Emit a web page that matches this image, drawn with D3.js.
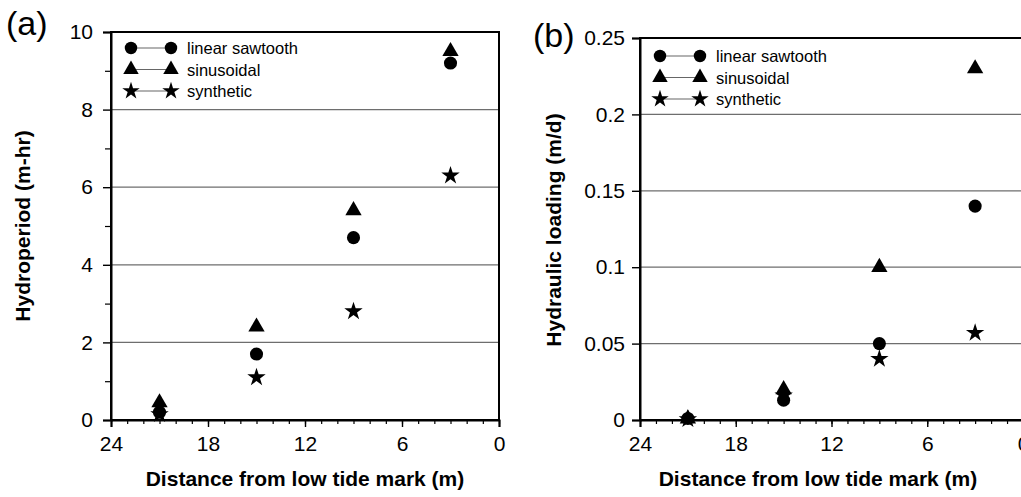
<!DOCTYPE html>
<html>
<head>
<meta charset="utf-8">
<script src="https://cdn.jsdelivr.net/npm/d3@7"></script>
<style>
  body { margin: 0; background: #fff; }
  svg { display: block; font-family: "Liberation Sans", Arial, sans-serif; }
</style>
</head>
<body>
<div id="chart"></div>
<script>
// distance from low tide mark (m)
const distance = [21, 15, 9, 3];

// panel (a) hydroperiod (m-hr)
const hydroSawtooth = [0.2, 1.7, 4.7, 9.2];
const hydroSinusoidal = [0.45, 2.4, 5.4, 9.5];
const hydroSynthetic = [0.15, 1.1, 2.8, 6.3];

// panel (b) hydraulic loading (m/d)
const loadSawtooth = [0.001, 0.013, 0.05, 0.14];
const loadSinusoidal = [0.0008, 0.02, 0.1, 0.23];
const loadSynthetic = [0.0005, 0.016, 0.04, 0.057];

const seriesNames = ['linear sawtooth', 'sinusoidal', 'synthetic'];
const xTicks = [24, 18, 12, 6, 0];
const hydroTicks = [0, 2, 4, 6, 8, 10];
const loadTicks = [0, 0.05, 0.1, 0.15, 0.2, 0.25];

const W = 1021;
const H = 497;
const FONT = '"Liberation Sans", Arial, sans-serif';

const svg = d3.select('#chart').append('svg')
  .attr('width', W)
  .attr('height', H);

const symbols = [d3.symbolCircle, d3.symbolTriangle, d3.symbolStar];
const sizes = [135, 115, 105];

function marker(sel, i, x, y, k = 1) {
  sel.append('path')
    .attr('d', d3.symbol().type(symbols[i]).size(sizes[i] * k)())
    .attr('transform', `translate(${x},${y})`)
    .attr('fill', '#000');
}

function panel(opt) {
  const x = d3.scaleLinear().domain([24, 0]).range([opt.left, opt.right]);
  const y = d3.scaleLinear().domain([0, opt.yMax]).range([opt.bottom, opt.top]);
  const g = svg.append('g');

  // grid lines
  g.selectAll('line.grid')
    .data(opt.yTicks.filter(d => d > 0 && d < opt.yMax))
    .enter().append('line')
    .attr('x1', opt.left).attr('x2', opt.right)
    .attr('y1', d => y(d)).attr('y2', d => y(d))
    .attr('stroke', '#6e6e6e')
    .attr('stroke-width', 1.2);

  // frame
  g.append('rect')
    .attr('x', opt.left).attr('y', opt.top)
    .attr('width', opt.right - opt.left)
    .attr('height', opt.bottom - opt.top)
    .attr('fill', 'none')
    .attr('stroke', '#000')
    .attr('stroke-width', 2);

  // x axis, minor ticks every 1 m
  const xAxis = g.append('g')
    .attr('transform', `translate(0,${opt.bottom})`)
    .call(d3.axisBottom(x).tickValues(d3.range(0, 25)).tickSize(4).tickFormat(''));
  xAxis.select('.domain').remove();
  xAxis.selectAll('line').attr('stroke-width', 1.2);

  const xMajor = g.append('g')
    .attr('transform', `translate(0,${opt.bottom})`)
    .call(d3.axisBottom(x).tickValues(xTicks).tickSize(7).tickPadding(9));
  xMajor.select('.domain').attr('stroke-width', 2);
  xMajor.selectAll('line').attr('stroke-width', 1.4);
  xMajor.selectAll('text')
    .attr('font-size', 21)
    .attr('font-family', FONT)
    .attr('fill', '#000');

  // y axis
  if (opt.yMinor) {
    const yMinor = g.append('g')
      .attr('transform', `translate(${opt.left},0)`)
      .call(d3.axisLeft(y).tickValues(opt.yMinor).tickSize(6).tickFormat(''));
    yMinor.select('.domain').remove();
    yMinor.selectAll('line').attr('stroke-width', 1.2);
  }
  const yAxis = g.append('g')
    .attr('transform', `translate(${opt.left},0)`)
    .call(d3.axisLeft(y).tickValues(opt.yTicks).tickSize(8).tickPadding(opt.yPad)
      .tickFormat(opt.yFormat));
  yAxis.select('.domain').attr('stroke-width', 2);
  yAxis.selectAll('line').attr('stroke-width', 1.4);
  yAxis.selectAll('text')
    .attr('font-size', 21)
    .attr('font-family', FONT)
    .attr('fill', '#000');

  // points
  opt.series.forEach((vals, i) => {
    vals.forEach((v, j) => marker(g, i, x(distance[j]), y(v)));
  });

  // legend
  seriesNames.forEach((name, i) => {
    const ly = opt.legendY + i * 21.5;
    const lx = opt.left + 20;
    g.append('line')
      .attr('x1', lx).attr('x2', lx + 40)
      .attr('y1', ly).attr('y2', ly)
      .attr('stroke', '#666').attr('stroke-width', 1.2);
    marker(g, i, lx, ly, 0.9);
    marker(g, i, lx + 40, ly, 0.9);
    g.append('text')
      .attr('x', lx + 56).attr('y', ly + 6)
      .attr('font-size', 16.5)
      .text(name);
  });

  // titles
  g.append('text')
    .attr('x', opt.xTitleX)
    .attr('y', 486)
    .attr('text-anchor', 'middle')
    .attr('font-size', 21)
    .attr('font-weight', 'bold')
    .text('Distance from low tide mark (m)');

  g.append('text')
    .attr('transform', `translate(${opt.yTitleX},${opt.yTitleY}) rotate(-90)`)
    .attr('text-anchor', 'middle')
    .attr('font-size', 21)
    .attr('font-weight', 'bold')
    .text(opt.yTitle);

  g.append('text')
    .attr('x', opt.labelX).attr('y', opt.labelY)
    .attr('font-size', 34)
    .text(opt.label);
}

panel({
  left: 111, right: 499, top: 32, bottom: 420,
  xTitleX: 305,
  yMax: 10, yTicks: hydroTicks, yMinor: [1, 3, 5, 7, 9], yPad: 10,
  yFormat: d3.format('d'),
  series: [hydroSawtooth, hydroSinusoidal, hydroSynthetic],
  legendY: 48,
  yTitle: 'Hydroperiod (m-hr)', yTitleX: 30, yTitleY: 226,
  label: '(a)', labelX: 6, labelY: 35,
});

panel({
  left: 640, right: 1023, top: 38, bottom: 420,
  xTitleX: 818,
  yMax: 0.25, yTicks: loadTicks, yMinor: null, yPad: 7,
  yFormat: d => (d === 0 ? '0' : String(+d.toFixed(2))),
  series: [loadSawtooth, loadSinusoidal, loadSynthetic],
  legendY: 56,
  yTitle: 'Hydraulic loading (m/d)', yTitleX: 561, yTitleY: 230,
  label: '(b)', labelX: 533, labelY: 47,
});
</script>
</body>
</html>
